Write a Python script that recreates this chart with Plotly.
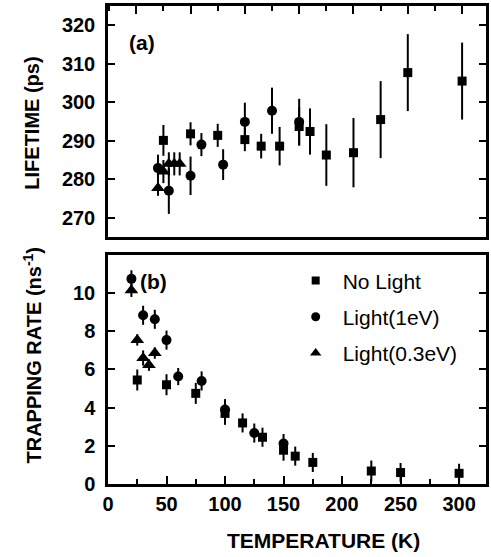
import plotly.graph_objects as go

# ---------------- data ----------------
# Panel (a): positron lifetime (ps) vs temperature (K)
a_nolight_T = [25, 50, 75, 100, 115, 132, 150, 160, 175, 200, 225, 250, 300]
a_nolight_v = [290.1, 291.8, 291.4, 290.3, 288.6, 288.6, 293.7, 292.4, 286.3, 286.9, 295.5, 307.7, 305.5]
a_nolight_e = [4, 3, 3, 3, 3.2, 5, 5, 6, 8, 9, 10, 10, 10]

a_light1_T = [20, 30, 50, 60, 80, 100, 125, 150]
a_light1_v = [282.9, 277.0, 280.9, 289.0, 283.8, 294.9, 297.8, 294.9]
a_light1_e = [3.5, 6, 5, 3, 4, 5, 6, 6]

a_light03_T = [20, 25, 30, 35, 40]
a_light03_v = [277.7, 282.0, 284.0, 284.0, 284.0]
a_light03_e = [2, 3, 3, 3, 3]

# Panel (b): trapping rate (ns^-1) vs temperature (K)
b_nolight_T = [25, 50, 75, 100, 115, 132, 150, 160, 175, 225, 250, 300]
b_nolight_v = [5.45, 5.2, 4.75, 3.7, 3.2, 2.45, 1.77, 1.46, 1.13, 0.68, 0.6, 0.56]
b_nolight_e = [0.55, 0.55, 0.55, 0.6, 0.5, 0.5, 0.55, 0.5, 0.5, 0.55, 0.5, 0.5]

b_light1_T = [20, 30, 40, 50, 60, 80, 100, 125, 150]
b_light1_v = [10.75, 8.84, 8.63, 7.54, 5.63, 5.4, 3.9, 2.67, 2.12]
b_light1_e = [0.45, 0.5, 0.5, 0.5, 0.45, 0.5, 0.55, 0.5, 0.5]

b_light03_T = [20, 25, 30, 35, 40]
b_light03_v = [10.15, 7.55, 6.6, 6.23, 6.86]
b_light03_e = [0.35, 0.3, 0.4, 0.3, 0.3]

series_names = ["No Light", "Light(1eV)", "Light(0.3eV)"]

x_ticks = [0, 50, 100, 150, 200, 250, 300]
a_y_ticks = [270, 280, 290, 300, 310, 320]
b_y_ticks = [0, 2, 4, 6, 8, 10]

# ---------------- styling ----------------
FONT = "Liberation Sans, Arial, sans-serif"
symbols = ["square", "circle", "triangle-up"]
sizes = [9, 10, 12]
legend_sizes = [8, 9, 10]

fig = go.Figure()

def add(T, v, e, sym, size, xa, ya):
    fig.add_trace(go.Scatter(
        x=T, y=v, mode="markers", xaxis=xa, yaxis=ya, showlegend=False,
        marker=dict(symbol=sym, size=size, color="black", line=dict(width=0)),
        error_y=dict(type="data", array=e, visible=True, color="black",
                     thickness=2, width=0),
    ))

add(a_nolight_T, a_nolight_v, a_nolight_e, symbols[0], sizes[0], "x", "y")
add(a_light1_T, a_light1_v, a_light1_e, symbols[1], sizes[1], "x", "y")
add(a_light03_T, a_light03_v, a_light03_e, symbols[2], sizes[2], "x", "y")
add(b_nolight_T, b_nolight_v, b_nolight_e, symbols[0], sizes[0], "x2", "y2")
add(b_light1_T, b_light1_v, b_light1_e, symbols[1], sizes[1], "x2", "y2")
add(b_light03_T, b_light03_v, b_light03_e, symbols[2], sizes[2], "x2", "y2")

# legend-only entries (markers without error bars)
for i, name in enumerate(series_names):
    fig.add_trace(go.Scatter(
        x=[None], y=[None], mode="markers", name=name, xaxis="x2", yaxis="y2",
        legendgroup=name,
        marker=dict(symbol=symbols[i], size=legend_sizes[i], color="black", line=dict(width=0)),
    ))

tickfont = dict(family=FONT, size=20, color="black", weight="bold")
axis_common = dict(showline=True, linewidth=2.5, linecolor="black", ticks="inside",
                   tickwidth=2, tickcolor="black", showgrid=False, zeroline=False)

fig.update_layout(
    width=491, height=557,
    margin=dict(l=108, r=2, t=6, b=73),
    paper_bgcolor="white", plot_bgcolor="white",
    font=dict(family=FONT, color="black"),
    xaxis=dict(domain=[0, 1], anchor="y", range=[-26, 322], side="top",
               tickvals=x_ticks, ticklen=8, showticklabels=False, mirror=True,
               minor=dict(dtick=25, tick0=0, ticks="inside", ticklen=5, tickwidth=2, tickcolor="black"),
               **axis_common),
    yaxis=dict(domain=[0.5167, 1], anchor="x", range=[265, 325], tickvals=a_y_ticks,
               ticklen=7, mirror="ticks", tickfont=tickfont, ticklabelstandoff=6,
               **axis_common),
    xaxis2=dict(domain=[0, 1], anchor="y2", range=[0, 323], tickvals=x_ticks,
                ticklen=8, mirror=True, tickfont=tickfont,
                minor=dict(dtick=25, tick0=0, ticks="inside", ticklen=5, tickwidth=2, tickcolor="black"),
                **axis_common),
    yaxis2=dict(domain=[0, 0.4791], anchor="x2", range=[0, 12], tickvals=b_y_ticks,
                ticklen=7, mirror="ticks", tickfont=tickfont, ticklabelstandoff=6,
                **axis_common),
    legend=dict(x=0.478, y=0.468, xanchor="left", yanchor="top",
                font=dict(family=FONT, size=21, color="black"),
                bgcolor="rgba(0,0,0,0)", tracegroupgap=6, itemwidth=44),
    annotations=[
        dict(text="(a)", xref="x domain", yref="y domain", x=0.05, y=0.844,
             xanchor="left", yanchor="middle", showarrow=False,
             font=dict(family=FONT, size=21, color="black", weight="bold")),
        dict(text="(b)", xref="x2 domain", yref="y2 domain", x=0.08, y=0.883,
             xanchor="left", yanchor="middle", showarrow=False,
             font=dict(family=FONT, size=21, color="black", weight="bold")),
        dict(text="LIFETIME (ps)", xref="paper", yref="paper", x=-0.1995, y=0.755,
             xanchor="center", yanchor="middle", textangle=-90, showarrow=False,
             font=dict(family=FONT, size=20, color="black", weight="bold")),
        dict(text="TRAPPING RATE (ns<sup>-1</sup>)", xref="paper", yref="paper",
             x=-0.1995, y=0.27, xanchor="center", yanchor="middle", textangle=-90,
             showarrow=False, font=dict(family=FONT, size=20, color="black", weight="bold")),
        dict(text="TEMPERATURE (K)", xref="paper", yref="paper", x=0.5696, y=-0.119,
             xanchor="center", yanchor="middle", showarrow=False,
             font=dict(family=FONT, size=21, color="black", weight="bold")),
    ],
)

fig.write_html("out.html", config={"displayModeBar": False},
               post_script="document.body.style.margin='0';document.body.style.overflow='hidden';")
